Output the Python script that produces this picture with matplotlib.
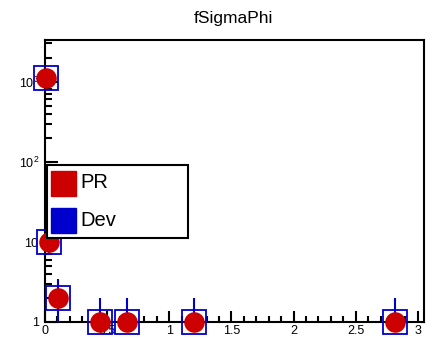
import numpy as np
import matplotlib
matplotlib.use("Agg")
import matplotlib.pyplot as plt
from matplotlib.ticker import FixedLocator, LogLocator, NullFormatter, FixedFormatter
from matplotlib.patches import Rectangle

plt.rcParams['font.family'] = ['Liberation Sans', 'DejaVu Sans']
plt.rcParams['mathtext.fontset'] = 'custom'
plt.rcParams['mathtext.rm'] = 'Liberation Sans'

title = "fSigmaPhi"
x_vals = [0.008, 0.03, 0.105, 0.44, 0.66, 1.2, 2.82]
pr_vals = [1100, 10, 2, 1, 1, 1, 1]
dev_vals = [1100, 10, 2, 1, 1, 1, 1]
legend_labels = ["PR", "Dev"]
x_ticks = [0, 0.5, 1, 1.5, 2, 2.5, 3]
x_ticklabels = ["0", "0.5", "1", "1.5", "2", "2.5", "3"]
y_ticks = [1, 10, 100, 1000]
y_ticklabels = ["1", r"$\mathregular{10}$", r"$\mathregular{10^{2}}$", r"$\mathregular{10^{3}}$"]

red = "#cc0000"
blue = "#0000cc"

fig = plt.figure(figsize=(4.4, 3.39), dpi=100)
ax = fig.add_axes([45/440, 17/339, 379/440, 282/339])
ax.set_yscale('log')
ax.set_xlim(0, 3.05)
ax.set_ylim(1, 10**3.52)

x = np.array(x_vals)
dv = np.array(dev_vals, dtype=float)
err = np.sqrt(dv)
lower = np.minimum(err, dv * 0.9999)
ax.errorbar(x, dv, yerr=[lower, err], fmt='none', ecolor=blue, elinewidth=1.5,
            capsize=0, zorder=3)
ax.plot(x, dv, linestyle='none', marker='s', markersize=17.5, markerfacecolor='none',
        markeredgecolor=blue, markeredgewidth=1.3, clip_on=False, zorder=4)
ax.plot(x, pr_vals, linestyle='none', marker='o', markersize=14.8, markerfacecolor=red,
        markeredgecolor=red, markeredgewidth=0, clip_on=False, zorder=5)

fig.text(233/440, (339-19)/339, title, fontsize=12.5, ha='center', va='center')

ax.xaxis.set_major_locator(FixedLocator(x_ticks))
ax.xaxis.set_major_formatter(FixedFormatter(x_ticklabels))
ax.xaxis.set_minor_locator(FixedLocator(np.arange(0, 3.05, 0.1)))
ax.yaxis.set_major_locator(FixedLocator(y_ticks))
ax.yaxis.set_major_formatter(FixedFormatter(y_ticklabels))
ax.yaxis.set_minor_locator(LogLocator(base=10, subs=np.arange(2, 10), numticks=20))
ax.yaxis.set_minor_formatter(NullFormatter())

ax.tick_params(axis='both', which='both', direction='in', width=1.5, colors='black',
               labelsize=9, top=False, right=False)
ax.tick_params(axis='x', which='major', length=8, pad=2)
ax.tick_params(axis='x', which='minor', length=4)
ax.tick_params(axis='y', which='major', length=9, pad=4)
ax.tick_params(axis='y', which='minor', length=5)
for s in ax.spines.values():
    s.set_linewidth(1.5)

# legend box
lx0, lx1 = 47/440, 188/440
ly0, ly1 = (339-238)/339, (339-165)/339
fig.patches.append(Rectangle((lx0, ly0), lx1-lx0, ly1-ly0, transform=fig.transFigure,
                             facecolor='white', edgecolor='black', linewidth=1.5, zorder=10))
for i, (lab, col) in enumerate(zip(legend_labels, [red, blue])):
    cy = (339-(183 + i*37))/339
    fig.patches.append(Rectangle((51/440, cy - 12.5/339), 25/440, 25/339,
                                 transform=fig.transFigure, facecolor=col,
                                 edgecolor=col, zorder=11))
    fig.text(80/440, cy, lab, fontsize=14.5, va='center', ha='left', zorder=12)

fig.savefig("out.png", dpi=100)
